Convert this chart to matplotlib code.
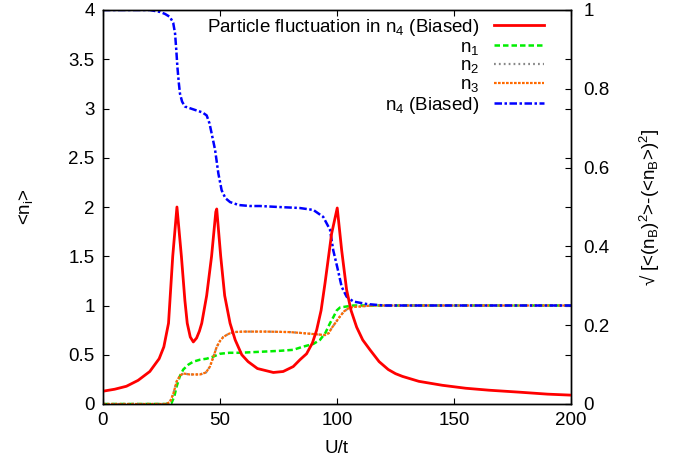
import numpy as np
import matplotlib
matplotlib.use("Agg")
import matplotlib.pyplot as plt
from matplotlib.ticker import FuncFormatter, MultipleLocator

plt.rcParams['font.family'] = ['Liberation Sans', 'DejaVu Sans']
plt.rcParams['mathtext.fontset'] = 'custom'
plt.rcParams['mathtext.rm'] = 'Liberation Sans'
plt.rcParams['mathtext.it'] = 'Liberation Sans'
plt.rcParams['mathtext.default'] = 'regular'
plt.rcParams['font.size'] = 13.5

#--- particle fluctuation of site 4 (right axis) ---#
u_fluc = [0, 5, 10, 15, 20, 24, 26, 28, 29.8, 31.6, 33.5, 35, 36, 37.3, 38.6,
          40, 41.2, 42.2, 44.3, 46.4, 48.2, 48.6, 50.3, 52, 54.3, 56.5, 59.3,
          62, 66, 72.8, 77, 81.3, 84.2, 87, 89.5, 91.3, 93.2, 94.9, 97.7,
          100.1, 102, 104.1, 106, 108.4, 111, 114.1, 118, 121.9, 125, 128,
          135, 145, 155, 165, 178, 190, 200]
fluc = [0.0325, 0.0375, 0.045, 0.06, 0.0825, 0.115, 0.145, 0.205, 0.375, 0.5,
        0.375, 0.2625, 0.205, 0.17, 0.1575, 0.1675, 0.185, 0.205, 0.275, 0.375,
        0.4875, 0.495, 0.375, 0.275, 0.205, 0.1625, 0.125, 0.1075, 0.09, 0.08,
        0.0825, 0.095, 0.1125, 0.1275, 0.155, 0.1875, 0.2375, 0.3075, 0.4325,
        0.4975, 0.39, 0.29, 0.2375, 0.195, 0.1625, 0.1375, 0.1075, 0.0875,
        0.077, 0.07, 0.0575, 0.0475, 0.04, 0.035, 0.03, 0.025, 0.0225]

#--- site occupations ---#
u_n1 = [0, 27, 29.3, 30.5, 31.5, 32.8, 34.3, 36.5, 38.6, 41.5, 44.3, 47, 50,
        54, 58.5, 67.1, 75.6, 81.3, 85.2, 89.9, 92.7, 95, 97, 98.4, 99.9,
        101.3, 104.1, 107, 200]
n1 = [0, 0, 0.01, 0.08, 0.18, 0.28, 0.35, 0.40, 0.43, 0.45, 0.46, 0.48, 0.51,
      0.52, 0.52, 0.53, 0.54, 0.55, 0.58, 0.61, 0.65, 0.72, 0.82, 0.88, 0.95,
      0.98, 0.99, 1.0, 1.0]

u_n23 = [0, 27, 28.6, 30, 31.5, 33, 34.3, 37, 41.5, 44, 45.7, 47.2, 48.6, 50,
         51.4, 53.5, 55.7, 60, 70, 80, 85.2, 90, 94.9, 96.5, 97.7, 99.5,
         101.3, 103, 104.8, 107, 109.8, 115, 200]
n2 = [0, 0, 0.02, 0.1, 0.23, 0.29, 0.31, 0.30, 0.30, 0.32, 0.38, 0.48, 0.58,
      0.64, 0.68, 0.71, 0.73, 0.735, 0.735, 0.73, 0.72, 0.71, 0.70, 0.72,
      0.77, 0.83, 0.89, 0.94, 0.97, 0.985, 0.99, 1.0, 1.0]
n3 = list(n2)

u_n4 = [0, 20, 24.4, 26.5, 28.6, 30, 30.8, 31.3, 31.8, 32.4, 32.9, 33.8, 35,
        37.5, 40, 42.5, 44.3, 45.5, 46.4, 47.9, 49.3, 50.7, 52.3, 54.3, 58,
        62.8, 67.1, 75, 84, 89.9, 94.1, 97, 98.4, 100.1, 102, 104.1, 107,
        112.7, 120, 200]
n4 = [4.0, 4.0, 3.98, 3.96, 3.93, 3.87, 3.76, 3.6, 3.42, 3.26, 3.15, 3.07,
      3.02, 3.0, 2.98, 2.96, 2.93, 2.85, 2.75, 2.58, 2.34, 2.17, 2.09, 2.05,
      2.02, 2.01, 2.01, 2.0, 1.99, 1.97, 1.90, 1.77, 1.56, 1.39, 1.19, 1.09,
      1.04, 1.015, 1.0, 1.0]

fig = plt.figure(figsize=(6.76, 4.63), dpi=100)
ax = fig.add_axes([103/676, 1 - 404/463, 468/676, 394/463])
ax2 = ax.twinx()

l1, = ax.plot(u_n1, n1, color='#00ee00', lw=1.8, dashes=(2.2, 1.2))
l2, = ax.plot(u_n23, n2, color='#888888', lw=1.6, dashes=(0.8, 1.4))
l3, = ax.plot(u_n23, n3, color='#ff6a00', lw=1.6, dashes=(1.2, 0.6))
l4, = ax.plot(u_n4, n4, color='#0000ff', lw=1.8, dashes=(3.0, 1.0, 1.0, 1.0))
l0, = ax2.plot(u_fluc, fluc, color='#ff0000', lw=2.0)

ax.set_xlim(0, 200)
ax.set_ylim(0, 4)
ax2.set_ylim(0, 1)
ax.xaxis.set_major_locator(MultipleLocator(50))
ax.yaxis.set_major_locator(MultipleLocator(0.5))
ax2.yaxis.set_major_locator(MultipleLocator(0.2))
fmt = FuncFormatter(lambda v, p: '%g' % round(v, 3))
ax.xaxis.set_major_formatter(fmt)
ax.yaxis.set_major_formatter(fmt)
ax2.yaxis.set_major_formatter(fmt)

ax.tick_params(direction='in', length=4, width=0.8, top=True, right=True,
               labelsize=13.5, pad=6)
ax2.tick_params(direction='in', length=4, width=0.8, labelsize=13.5, pad=9)
for a in (ax, ax2):
    for s in a.spines.values():
        s.set_linewidth(1.0)

ax.set_xlabel('U/t', fontsize=13.5, labelpad=8)
ax.set_ylabel('<n$_i$>', fontsize=13.5, labelpad=24)
ax2.set_ylabel('\u221a [<(n$_B$)$^2$>-(<n$_B$>)$^2$]', fontsize=13.5,
               rotation=90, labelpad=20)

ax2.legend([l0, l1, l2, l3, l4],
           ['Particle fluctuation in n$_4$ (Biased)', 'n$_1$', 'n$_2$',
            'n$_3$', 'n$_4$ (Biased)'],
           loc='upper right', bbox_to_anchor=(544/676, 1 - 17/463),
           bbox_transform=fig.transFigure, frameon=False, markerfirst=False,
           handlelength=2.65, handletextpad=0.8, labelspacing=0.03,
           borderaxespad=0.0, borderpad=0.0, fontsize=13.5)

fig.savefig('out.png', dpi=100)
